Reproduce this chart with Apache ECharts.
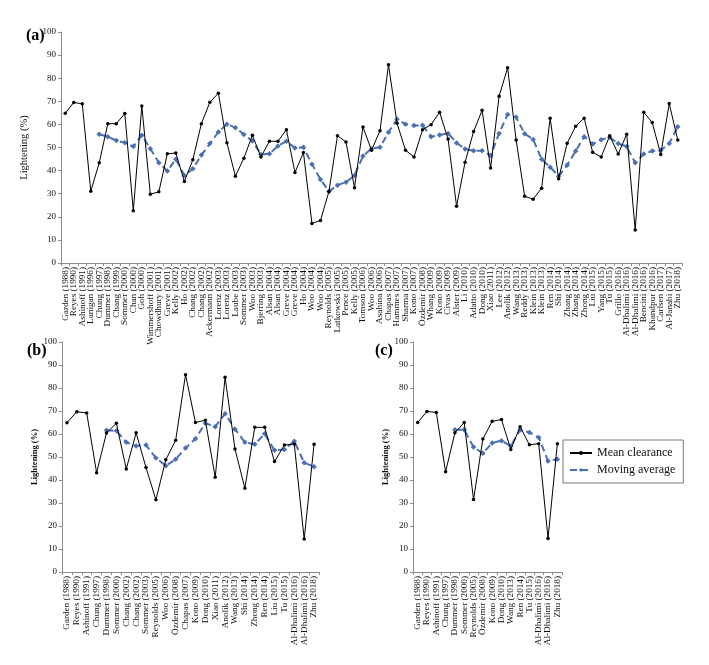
<!DOCTYPE html>
<html>
<head>
<meta charset="utf-8">
<script src="https://cdn.jsdelivr.net/npm/echarts@6/dist/echarts.min.js"></script>
<style>
  html, body { margin: 0; padding: 0; background: #fff; }
  #myChart { width: 709px; height: 665px; }
</style>
</head>
<body>
<div id="myChart"></div>
<script>
// panel (a)
const studiesA = ['Garden (1988)', 'Reyes (1990)', 'Ashinoff (1991)', 'Lanigan (1996)', 'Chung (1997)', 'Dummer (1998)',
  'Chang (1999)', 'Sommer (2000)', 'Chan (2000)', 'Goh (2000)', 'Wimmershoff (2001)', 'Chowdhury (2001)', 'Greve (2001)',
  'Kelly (2002)', 'Ho (2002)', 'Chang (2002)', 'Chang (2002)', 'Ackermann (2002)', 'Lorenz (2003)', 'Lorenz (2003)',
  'Laube (2003)', 'Sommer (2003)', 'Woo (2003)', 'Bjerring (2003)', 'Alsan (2004)', 'Alsan (2004)', 'Greve (2004)',
  'Greve (2004)', 'Ho (2004)', 'Woo (2004)', 'Woo (2004)', 'Reynolds (2005)', 'Latkowski (2005)', 'Pence (2005)',
  'Kelly (2005)', 'Tomson (2006)', 'Woo (2006)', 'Asahina (2006)', 'Chapas (2007)', 'Hammes (2007)', 'Sharma (2007)',
  'Kono (2007)', 'Özdemir (2008)', 'Whang (2009)', 'Kono (2009)', 'Civas (2009)', 'Alster (2009)', 'Li (2010)',
  'Adatto (2010)', 'Dong (2010)', 'Xiao (2011)', 'Lee (2012)', 'Anolik (2012)', 'Wang (2013)', 'Reddy (2013)',
  'Klein (2013)', 'Klein (2013)', 'Ren (2014)', 'Shi (2014)', 'Zhang (2014)', 'Zhang (2014)', 'Zhong (2014)',
  'Liu (2015)', 'Yang (2015)', 'Tu (2015)', 'Grillo (2016)', 'Al-Dhalimi (2016)', 'Al-Dhalimi (2016)', 'Bencini (2016)',
  'Khandpur (2016)', 'Carlsen (2017)', 'Al-Janabi (2017)', 'Zhu (2018)'];
const meanA = [64.8, 69.5, 68.9, 31.1, 43.4, 60.3, 60.3, 64.7, 22.6, 68.0, 29.8, 30.8, 47.3, 47.6, 35.3, 44.7, 60.3,
  69.6, 73.5, 52.1, 37.6, 45.4, 55.3, 45.9, 52.7, 52.7, 57.7, 39.2, 47.8, 17.1, 18.4, 31.0, 55.1, 52.4, 32.6, 58.9,
  48.8, 57.3, 85.8, 60.5, 48.8, 45.9, 57.7, 59.9, 65.3, 53.7, 24.6, 43.6, 56.9, 66.1, 41.1, 72.2, 84.5, 53.3, 28.9,
  27.6, 32.4, 62.7, 36.5, 51.8, 59.2, 62.7, 47.9, 45.9, 55.1, 47.2, 55.7, 14.3, 65.3, 60.8, 47.0, 69.0, 53.3];
const movingA = ['-', '-', '-', '-', 55.7, 54.7, 53.0, 52.1, 50.4, 55.3, 49.5, 43.4, 39.8, 44.9, 37.9, 40.8, 46.7,
  51.7, 56.7, 60.1, 58.6, 55.6, 52.8, 47.0, 47.3, 50.7, 52.7, 49.8, 50.1, 42.8, 36.2, 31.0, 33.7, 35.0, 37.9, 46.3,
  49.5, 50.1, 56.6, 62.2, 60.1, 59.5, 59.6, 54.7, 55.4, 56.1, 52.0, 49.3, 48.6, 48.6, 46.5, 56.1, 64.3, 63.1, 56.0,
  53.5, 44.9, 41.5, 37.6, 42.4, 48.5, 54.7, 51.5, 53.4, 54.4, 51.7, 50.4, 43.4, 47.2, 48.5, 48.8, 51.7, 59.0];

// panel (b)
const studiesB = ['Garden (1988)', 'Reyes (1990)', 'Ashinoff (1991)', 'Chung (1997)', 'Dummer (1998)', 'Sommer (2000)',
  'Chang (2002)', 'Chang (2002)', 'Sommer (2003)', 'Reynolds (2005)', 'Woo (2006)', 'Özdemir (2008)', 'Chapas (2007)',
  'Kono (2009)', 'Dong (2010)', 'Xiao (2011)', 'Anolik (2012)', 'Wang (2013)', 'Shi (2014)', 'Zhong (2014)',
  'Ren (2014)', 'Liu (2015)', 'Tu (2015)', 'Al-Dhalimi (2016)', 'Al-Dhalimi (2016)', 'Zhu (2018)'];
const meanB = [64.9, 69.7, 69.1, 43.2, 60.4, 64.7, 44.8, 60.5, 45.4, 31.4, 48.8, 57.3, 85.8, 65.0, 66.0, 41.2,
  84.7, 53.5, 36.4, 62.9, 62.9, 48.0, 55.2, 55.6, 14.3, 55.5];
const movingB = ['-', '-', '-', '-', 61.6, 61.4, 56.4, 54.8, 55.2, 49.6, 46.2, 49.0, 53.9, 57.9, 64.7, 63.2,
  68.8, 62.1, 56.4, 55.5, 60.1, 52.9, 53.3, 56.9, 47.5, 45.8];

// panel (c)
const studiesC = ['Garden (1988)', 'Reyes (1990)', 'Ashinoff (1991)', 'Chung (1997)', 'Dummer (1998)', 'Sommer (2000)',
  'Reynolds (2005)', 'Özdemir (2008)', 'Kono (2009)', 'Dong (2010)', 'Wang (2013)', 'Ren (2014)', 'Tu (2015)',
  'Al-Dhalimi (2016)', 'Al-Dhalimi (2016)', 'Zhu (2018)'];
const meanC = [65.0, 69.8, 69.4, 43.6, 60.5, 65.0, 31.5, 57.8, 65.5, 66.3, 53.3, 63.2, 55.3, 55.8, 14.6, 55.8];
const movingC = ['-', '-', '-', '-', 61.8, 61.8, 54.3, 51.6, 56.1, 57.1, 54.8, 61.7, 60.7, 58.5, 48.3, 49.0];

const yTicks = [0, 10, 20, 30, 40, 50, 60, 70, 80, 90, 100];

const serif = 'Liberation Serif';
const blue = '#4a6fb3';

let myChart = echarts.init(document.getElementById('myChart'));

function xAxisFor(data, gridIndex) {
  return {
    type: 'category',
    data: data,
    gridIndex: gridIndex,
    boundaryGap: true,
    axisLine: { lineStyle: { color: '#8c8c8c', width: 1 } },
    axisTick: { show: true, interval: 0, length: 3, lineStyle: { color: '#8c8c8c' } },
    axisLabel: { interval: 0, rotate: 90, fontFamily: serif, fontSize: 9.2, color: '#111', margin: 4 },
    splitLine: { show: false }
  };
}

function yAxisFor(gridIndex, nameSize, nameBold, nameGap) {
  return {
    type: 'value',
    gridIndex: gridIndex,
    min: yTicks[0],
    max: yTicks[yTicks.length - 1],
    interval: 10,
    name: 'Lightening (%)',
    nameLocation: 'middle',
    nameRotate: 90,
    nameGap: nameGap,
    nameTextStyle: { fontFamily: serif, fontSize: nameSize, fontWeight: nameBold ? 'bold' : 'normal', color: '#111' },
    axisLine: { show: true, lineStyle: { color: '#8c8c8c', width: 1 } },
    axisTick: { show: true, length: 3, lineStyle: { color: '#8c8c8c' } },
    axisLabel: { fontFamily: serif, fontSize: 9, color: '#111', margin: 5 },
    splitLine: { show: false }
  };
}

function meanSeries(data, idx) {
  return {
    name: 'Mean clearance',
    type: 'line',
    xAxisIndex: idx,
    yAxisIndex: idx,
    data: data,
    symbol: 'circle',
    symbolSize: 3.5,
    itemStyle: { color: '#000' },
    lineStyle: { color: '#000', width: 1 },
    animation: false,
    z: 3
  };
}

function movingSeries(data, idx) {
  return {
    name: 'Moving average',
    type: 'line',
    xAxisIndex: idx,
    yAxisIndex: idx,
    data: data,
    symbol: 'diamond',
    symbolSize: 5.5,
    itemStyle: { color: blue },
    lineStyle: { color: blue, width: 2, type: [7, 4] },
    animation: false,
    z: 2
  };
}

myChart.setOption({
  backgroundColor: '#fff',
  title: [
    { text: '(a)', left: 21, top: 23, textStyle: { fontFamily: serif, fontSize: 16, fontWeight: 'bold', color: '#000' } },
    { text: '(b)', left: 22, top: 338, textStyle: { fontFamily: serif, fontSize: 16, fontWeight: 'bold', color: '#000' } },
    { text: '(c)', left: 370, top: 338, textStyle: { fontFamily: serif, fontSize: 16, fontWeight: 'bold', color: '#000' } }
  ],
  legend: {
    data: ['Mean clearance', 'Moving average'],
    orient: 'vertical',
    left: 563,
    top: 440,
    padding: [7, 8, 7, 6],
    itemGap: 5,
    itemWidth: 22,
    itemHeight: 5,
    borderColor: '#777',
    borderWidth: 1,
    textStyle: { fontFamily: serif, fontSize: 12, color: '#111' }
  },
  grid: [
    { left: 61, right: 27, top: 32, height: 231 },
    { left: 62, width: 257, top: 342, height: 230 },
    { left: 413, width: 149, top: 342, height: 230 }
  ],
  xAxis: [
    xAxisFor(studiesA, 0),
    xAxisFor(studiesB, 1),
    xAxisFor(studiesC, 2)
  ],
  yAxis: [
    yAxisFor(0, 10.5, false, 31),
    yAxisFor(1, 8.5, true, 22),
    yAxisFor(2, 8.5, true, 22)
  ],
  series: [
    meanSeries(meanA, 0),
    movingSeries(movingA, 0),
    meanSeries(meanB, 1),
    movingSeries(movingB, 1),
    meanSeries(meanC, 2),
    movingSeries(movingC, 2)
  ]
});
</script>
</body>
</html>
